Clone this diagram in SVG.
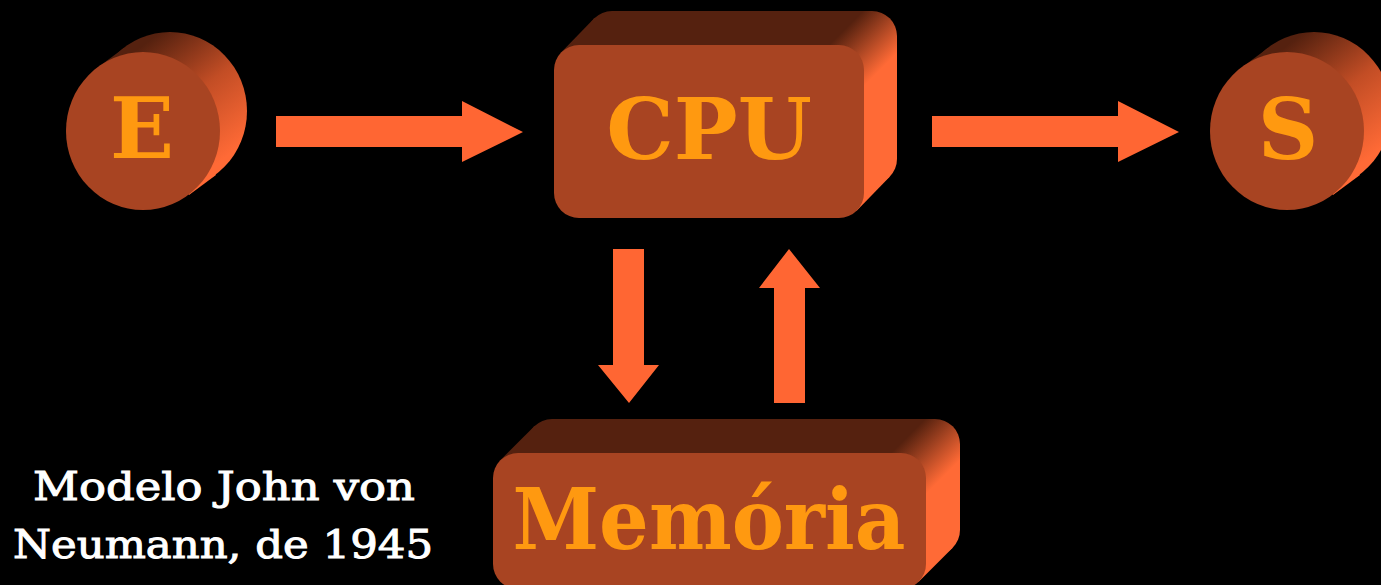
<svg xmlns="http://www.w3.org/2000/svg" width="1381" height="585" viewBox="0 0 1381 585">
<style>
.front{fill:#A84422}
.arrow{fill:#FF6633}
.lbl{font-family:"DejaVu Serif","Liberation Serif",serif;font-weight:bold;fill:#FF9910;text-anchor:middle}
.cap{font-family:"DejaVu Serif","Liberation Serif",serif;fill:#FFFFFF;text-anchor:middle;font-size:39px;stroke:#FFFFFF;stroke-width:1}
</style>
<defs>
<linearGradient id="cylE" gradientUnits="userSpaceOnUse" x1="150" y1="40" x2="235" y2="150">
<stop offset="0" stop-color="#55210F"/><stop offset="0.5" stop-color="#C24D25"/><stop offset="1" stop-color="#FF6A36"/>
</linearGradient>
<linearGradient id="cylS" gradientUnits="userSpaceOnUse" x1="1294" y1="40" x2="1379" y2="150">
<stop offset="0" stop-color="#55210F"/><stop offset="0.5" stop-color="#C24D25"/><stop offset="1" stop-color="#FF6A36"/>
</linearGradient>
<linearGradient id="boxC" gradientUnits="userSpaceOnUse" x1="862" y1="12" x2="900" y2="50">
<stop offset="0" stop-color="#55210F"/><stop offset="1" stop-color="#FF6A36"/>
</linearGradient>
<linearGradient id="boxM" gradientUnits="userSpaceOnUse" x1="924" y1="420" x2="962" y2="458">
<stop offset="0" stop-color="#55210F"/><stop offset="1" stop-color="#FF6A36"/>
</linearGradient>
</defs>
<rect width="1381" height="585" fill="#000"/>

<g id="connectors">
<polygon class="arrow" points="276,116 462,116 462,101 523,132 462,162 462,147 276,147"/>
<polygon class="arrow" points="932,116 1118,116 1118,101 1179,132 1118,162 1118,147 932,147"/>
<polygon class="arrow" points="613,249 644,249 644,365 659,365 629,403 598,365 613,365"/>
<polygon class="arrow" points="774,403 805,403 805,288 820,288 789,249 759,288 774,288"/>
</g>

<g id="node-E">
<ellipse cx="170" cy="111" rx="77" ry="79" fill="url(#cylE)"/>
<polygon points="97,68 124,48 216,175 189,195" fill="url(#cylE)"/>
<ellipse class="front" cx="143" cy="131" rx="77" ry="79"/>
<text class="lbl" x="142" y="158" font-size="84">E</text>
</g>

<g id="node-CPU">
<rect x="587" y="11" width="310" height="173" rx="25" fill="url(#boxC)"/>
<polygon points="561.3,52.3 594.3,18.3 889.7,176.7 856.7,210.7" fill="url(#boxC)"/>
<rect class="front" x="554" y="45" width="310" height="173" rx="25"/>
<text class="lbl" x="709" y="159" font-size="85">CPU</text>
</g>

<g id="node-S">
<ellipse cx="1314" cy="111" rx="77" ry="79" fill="url(#cylS)"/>
<polygon points="1241,68 1268,48 1360,175 1333,195" fill="url(#cylS)"/>
<ellipse class="front" cx="1287" cy="131" rx="77" ry="79"/>
<text class="lbl" x="1288" y="159" font-size="84">S</text>
</g>

<g id="node-Memoria">
<rect x="527" y="419" width="433" height="136" rx="25" fill="url(#boxM)"/>
<polygon points="500.3,460.3 534.3,426.3 952.7,547.7 918.7,581.7" fill="url(#boxM)"/>
<rect class="front" x="493" y="453" width="433" height="136" rx="25"/>
<text class="lbl" x="709" y="549" font-size="84" textLength="393" lengthAdjust="spacingAndGlyphs">Memória</text>
</g>

<g id="caption">
<text class="cap" x="224" y="500" textLength="382" lengthAdjust="spacingAndGlyphs">Modelo John von</text>
<text class="cap" x="223" y="558" textLength="420" lengthAdjust="spacingAndGlyphs">Neumann, de 1945</text>
</g>
</svg>
